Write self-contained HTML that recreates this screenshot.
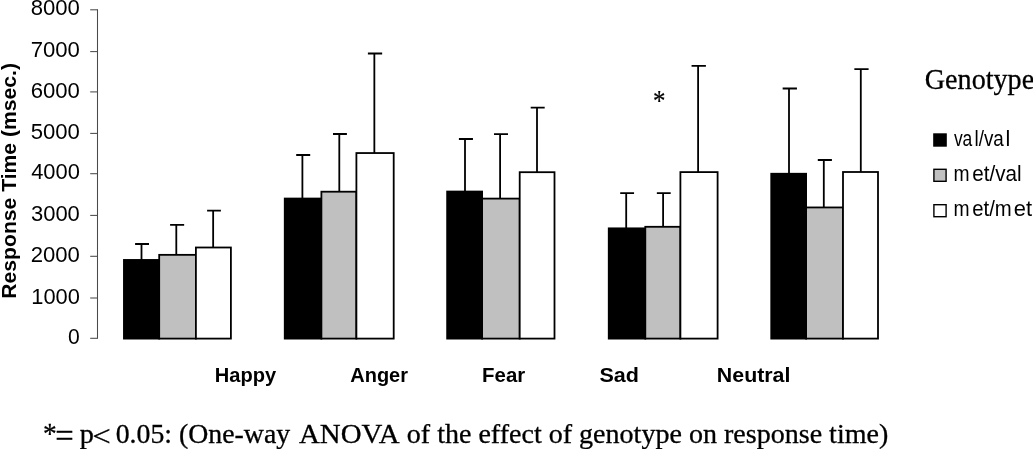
<!DOCTYPE html>
<html><head><meta charset="utf-8"><title>Response time by genotype</title>
<style>
html,body{margin:0;padding:0;background:#fff;}
svg{display:block}
.t{font-family:"Liberation Sans",Arial,Helvetica,sans-serif;fill:#000}
.b{font-family:"Liberation Sans",Arial,Helvetica,sans-serif;font-weight:bold;fill:#000}
.s{font-family:"Liberation Serif","Times New Roman",serif;fill:#000}
</style></head><body>
<svg width="1033" height="449" viewBox="0 0 1033 449">
<rect width="1033" height="449" fill="#fff"/>

<g stroke="#4a4a4a" stroke-width="1.05" fill="none">
<line x1="97.5" y1="9.3" x2="97.5" y2="338.8"/>
<line x1="90.2" y1="338.3" x2="97.5" y2="338.3"/>
<line x1="90.2" y1="298.0" x2="97.5" y2="298.0"/>
<line x1="90.2" y1="256.3" x2="97.5" y2="256.3"/>
<line x1="90.2" y1="215.4" x2="97.5" y2="215.4"/>
<line x1="90.2" y1="173.7" x2="97.5" y2="173.7"/>
<line x1="90.2" y1="133.4" x2="97.5" y2="133.4"/>
<line x1="90.2" y1="91.9" x2="97.5" y2="91.9"/>
<line x1="90.2" y1="51.6" x2="97.5" y2="51.6"/>
<line x1="90.2" y1="9.8" x2="97.5" y2="9.8"/>
</g>
<text class="t" x="67.96" y="343.90" font-size="21.5" textLength="11.74" lengthAdjust="spacingAndGlyphs">0</text>
<text class="t" x="31.28" y="303.60" font-size="21.5" textLength="48.58" lengthAdjust="spacingAndGlyphs">1000</text>
<text class="t" x="30.67" y="261.90" font-size="21.5" textLength="49.20" lengthAdjust="spacingAndGlyphs">2000</text>
<text class="t" x="30.93" y="221.00" font-size="21.5" textLength="48.93" lengthAdjust="spacingAndGlyphs">3000</text>
<text class="t" x="31.19" y="179.30" font-size="21.5" textLength="48.67" lengthAdjust="spacingAndGlyphs">4000</text>
<text class="t" x="30.67" y="139.00" font-size="21.5" textLength="49.20" lengthAdjust="spacingAndGlyphs">5000</text>
<text class="t" x="30.67" y="97.50" font-size="21.5" textLength="49.20" lengthAdjust="spacingAndGlyphs">6000</text>
<text class="t" x="30.67" y="57.20" font-size="21.5" textLength="49.20" lengthAdjust="spacingAndGlyphs">7000</text>
<text class="t" x="30.67" y="15.40" font-size="21.5" textLength="49.20" lengthAdjust="spacingAndGlyphs">8000</text>
<path d="M141.50 259.95V244.00M135.10 244.00H149.00" stroke="#000" stroke-width="1.8" fill="none"/>
<path d="M176.30 254.85V224.90M170.10 224.90H184.15" stroke="#000" stroke-width="1.8" fill="none"/>
<path d="M213.15 247.50V210.60M207.10 210.60H220.90" stroke="#000" stroke-width="1.8" fill="none"/>
<rect x="123.95" y="259.95" width="35.25" height="78.65" fill="#000" stroke="#000" stroke-width="1.8"/>
<rect x="159.20" y="254.85" width="36.70" height="83.75" fill="#c0c0c0" stroke="#000" stroke-width="1.8"/>
<rect x="195.90" y="247.50" width="35.00" height="91.10" fill="#fff" stroke="#000" stroke-width="1.8"/>
<path d="M302.40 198.55V155.00M296.20 155.00H310.20" stroke="#000" stroke-width="1.8" fill="none"/>
<path d="M339.30 191.70V134.00M333.00 134.00H346.90" stroke="#000" stroke-width="1.8" fill="none"/>
<path d="M374.35 153.05V53.50M367.90 53.50H382.15" stroke="#000" stroke-width="1.8" fill="none"/>
<rect x="284.75" y="198.55" width="36.65" height="140.05" fill="#000" stroke="#000" stroke-width="1.8"/>
<rect x="321.40" y="191.70" width="35.00" height="146.90" fill="#c0c0c0" stroke="#000" stroke-width="1.8"/>
<rect x="356.40" y="153.05" width="37.30" height="185.55" fill="#fff" stroke="#000" stroke-width="1.8"/>
<path d="M465.00 191.55V139.00M458.90 139.00H472.95" stroke="#000" stroke-width="1.8" fill="none"/>
<path d="M500.10 198.60V134.10M494.00 134.10H508.00" stroke="#000" stroke-width="1.8" fill="none"/>
<path d="M537.00 172.20V107.70M530.70 107.70H544.70" stroke="#000" stroke-width="1.8" fill="none"/>
<rect x="447.15" y="191.55" width="34.95" height="147.05" fill="#000" stroke="#000" stroke-width="1.8"/>
<rect x="482.10" y="198.60" width="37.60" height="140.00" fill="#c0c0c0" stroke="#000" stroke-width="1.8"/>
<rect x="519.70" y="172.20" width="34.80" height="166.40" fill="#fff" stroke="#000" stroke-width="1.8"/>
<path d="M626.20 228.35V193.10M620.20 193.10H634.06" stroke="#000" stroke-width="1.8" fill="none"/>
<path d="M663.10 226.80V193.10M656.85 193.10H670.70" stroke="#000" stroke-width="1.8" fill="none"/>
<path d="M698.10 172.10V65.96M691.56 65.96H705.90" stroke="#000" stroke-width="1.8" fill="none"/>
<rect x="608.75" y="228.35" width="36.55" height="110.25" fill="#000" stroke="#000" stroke-width="1.8"/>
<rect x="645.30" y="226.80" width="35.10" height="111.80" fill="#c0c0c0" stroke="#000" stroke-width="1.8"/>
<rect x="680.40" y="172.10" width="37.20" height="166.50" fill="#fff" stroke="#000" stroke-width="1.8"/>
<path d="M789.00 173.75V88.50M782.66 88.50H796.95" stroke="#000" stroke-width="1.8" fill="none"/>
<path d="M823.80 207.45V160.00M817.80 160.00H831.90" stroke="#000" stroke-width="1.8" fill="none"/>
<path d="M860.80 172.00V69.20M854.35 69.20H868.60" stroke="#000" stroke-width="1.8" fill="none"/>
<rect x="771.25" y="173.75" width="34.85" height="164.85" fill="#000" stroke="#000" stroke-width="1.8"/>
<rect x="806.10" y="207.45" width="36.90" height="131.15" fill="#c0c0c0" stroke="#000" stroke-width="1.8"/>
<rect x="843.00" y="172.00" width="35.00" height="166.60" fill="#fff" stroke="#000" stroke-width="1.8"/>
<text class="b" x="214.74" y="382.40" font-size="20" textLength="61.38" lengthAdjust="spacingAndGlyphs">Happy</text>
<text class="b" x="350.30" y="382.40" font-size="20" textLength="57.70" lengthAdjust="spacingAndGlyphs">Anger</text>
<text class="b" x="482.12" y="382.40" font-size="20" textLength="43.13" lengthAdjust="spacingAndGlyphs">Fear</text>
<text class="b" x="599.46" y="382.40" font-size="20" textLength="39.49" lengthAdjust="spacingAndGlyphs">Sad</text>
<text class="b" x="716.87" y="382.40" font-size="20" textLength="73.53" lengthAdjust="spacingAndGlyphs">Neutral</text>
<g transform="translate(16,297.2) rotate(-90)"><text class="b" x="-1.51" y="0.00" font-size="21" textLength="235.67" lengthAdjust="spacingAndGlyphs">Response Time (msec.)</text></g>
<text class="s" x="652.89" y="109.90" font-size="28.5" textLength="12.41" lengthAdjust="spacingAndGlyphs" stroke="#000" stroke-width="0.25">*</text>
<text class="s" x="924.80" y="88.70" font-size="29.2" textLength="109.35" lengthAdjust="spacingAndGlyphs" stroke="#000" stroke-width="0.3">Genotype</text>
<rect x="933.9" y="134.0" width="12.2" height="12.0" fill="#000" stroke="#000" stroke-width="1.4"/>
<text class="t" x="953.90" y="145.80" font-size="21.6" textLength="18.45" lengthAdjust="spacingAndGlyphs">va</text>
<text class="t" x="974.49" y="145.80" font-size="21.6" textLength="29.28" lengthAdjust="spacingAndGlyphs">l/va</text>
<text class="t" x="1005.60" y="145.80" font-size="21.6">l</text>
<rect x="933.9" y="169.3" width="12.2" height="12.0" fill="#c0c0c0" stroke="#000" stroke-width="1.4"/>
<text class="t" x="953.46" y="180.80" font-size="21.6" textLength="16.08" lengthAdjust="spacingAndGlyphs">m</text>
<text class="t" x="972.24" y="180.80" font-size="21.6" textLength="49.37" lengthAdjust="spacingAndGlyphs">et/val</text>
<rect x="933.9" y="204.7" width="12.2" height="12.0" fill="#fff" stroke="#000" stroke-width="1.4"/>
<text class="t" x="953.46" y="215.90" font-size="21.6" textLength="16.08" lengthAdjust="spacingAndGlyphs">m</text>
<text class="t" x="972.26" y="215.90" font-size="21.6" textLength="39.55" lengthAdjust="spacingAndGlyphs">et/m</text>
<text class="t" x="1013.79" y="215.90" font-size="21.6" textLength="18.28" lengthAdjust="spacingAndGlyphs">et</text>
<text class="s" x="42.96" y="443.10" font-size="28.5" textLength="13.68" lengthAdjust="spacingAndGlyphs" stroke="#000" stroke-width="0.3">*</text>
<text class="s" x="55.28" y="446.80" font-size="33.4" textLength="18.48" lengthAdjust="spacingAndGlyphs" stroke="#000" stroke-width="0.3">=</text>
<text class="s" x="79.74" y="442.80" font-size="27.8" textLength="14.13" lengthAdjust="spacingAndGlyphs" stroke="#000" stroke-width="0.3">p</text>
<text class="s" x="92.36" y="445.65" font-size="30.0" textLength="18.49" lengthAdjust="spacingAndGlyphs" stroke="#000" stroke-width="0.3">&lt;</text>
<text class="s" x="115.70" y="442.80" font-size="27.8" textLength="174.50" lengthAdjust="spacingAndGlyphs" stroke="#000" stroke-width="0.3">0.05: (One-way</text>
<text class="s" x="298.94" y="442.80" font-size="27.8" textLength="100.57" lengthAdjust="spacingAndGlyphs" stroke="#000" stroke-width="0.3">ANOVA</text>
<text class="s" x="406.79" y="442.80" font-size="27.8" textLength="481.50" lengthAdjust="spacingAndGlyphs" stroke="#000" stroke-width="0.3">of the effect of genotype on response time)</text>
</svg></body></html>
